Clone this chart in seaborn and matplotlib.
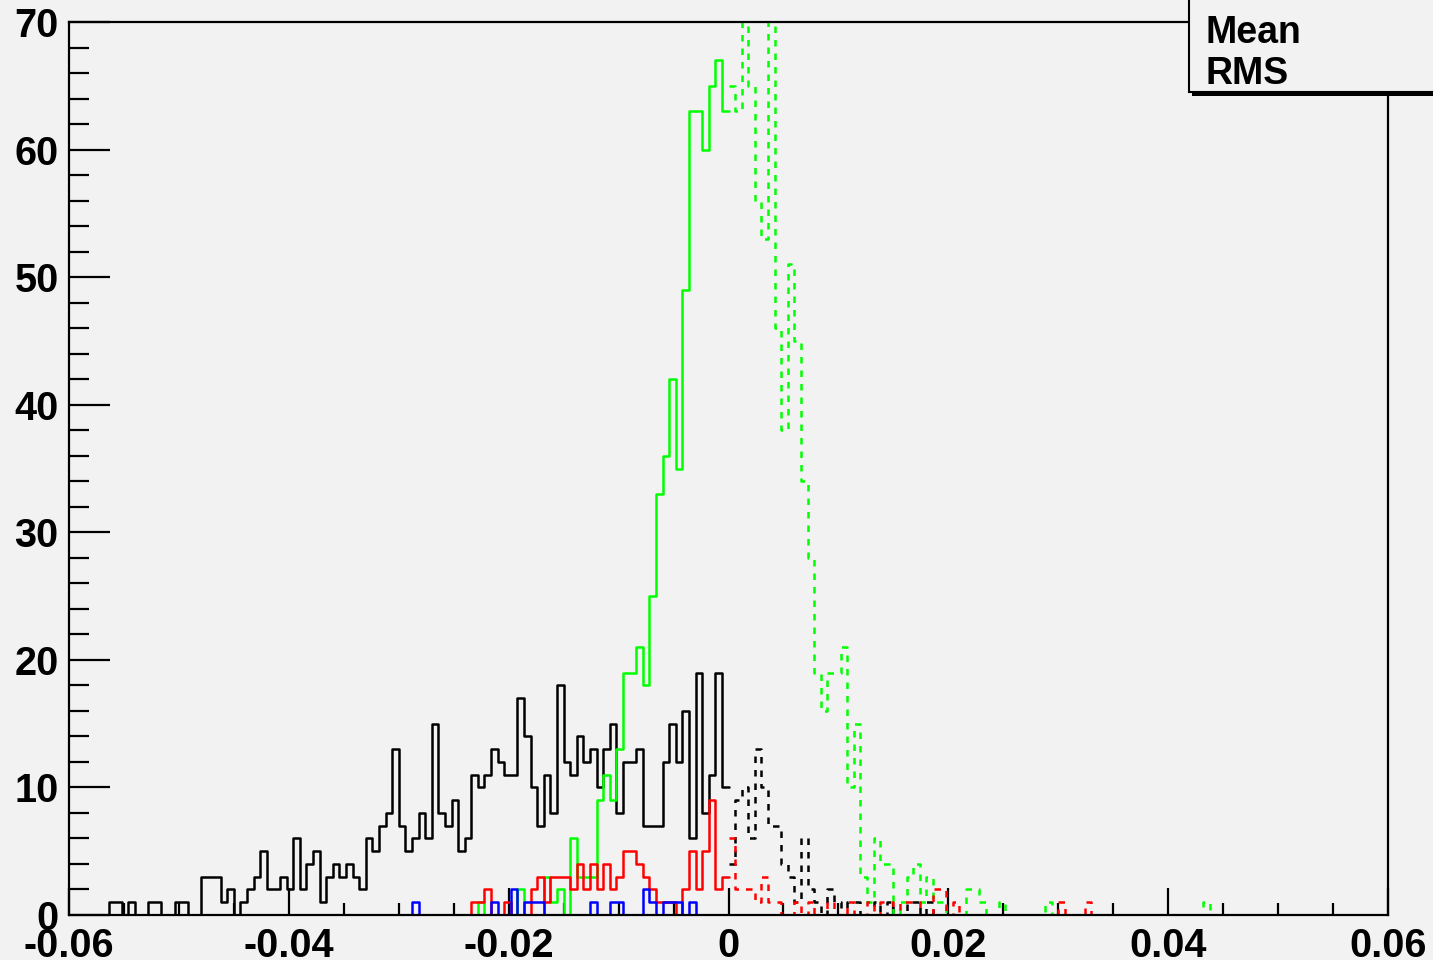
import numpy as np
import pandas as pd
import matplotlib
matplotlib.use("Agg")
import matplotlib.pyplot as plt
from matplotlib.patches import Rectangle
from matplotlib.ticker import MultipleLocator, FuncFormatter
import seaborn as sns

# ---------------- data (counts per bin, bin width 0.0006) ----------------
# negative side: 100 bins covering [-0.06, 0)
neg_black = [0, 0, 0, 0, 0, 0, 1, 1, 0, 1,
             0, 0, 1, 1, 0, 0, 1, 1, 0, 0,
             3, 3, 3, 1, 2, 0, 1, 2, 3, 5,
             2, 2, 3, 2, 6, 2, 4, 5, 1, 3,
             4, 3, 4, 3, 2, 6, 5, 7, 8, 13,
             7, 5, 6, 8, 6, 15, 8, 7, 9, 5,
             6, 11, 10, 11, 13, 12, 11, 11, 17, 14,
             10, 7, 11, 8, 18, 12, 11, 14, 12, 13,
             10, 13, 15, 8, 12, 12, 13, 7, 7, 7,
             12, 15, 12, 16, 6, 19, 8, 11, 19, 10]
neg_green = [0] * 60 + [0, 0, 1, 0, 0, 0, 0, 0, 2, 0,
                        0, 0, 3, 1, 2, 0, 6, 3, 3, 3,
                        9, 11, 9, 13, 19, 19, 21, 18, 25, 33,
                        36, 42, 35, 49, 63, 63, 60, 65, 67, 63]
neg_red = [0] * 60 + [0, 1, 1, 2, 0, 0, 1, 0, 0, 0,
                      2, 3, 1, 3, 3, 3, 2, 4, 2, 4,
                      2, 4, 2, 3, 5, 5, 4, 3, 2, 1,
                      1, 1, 0, 2, 5, 2, 5, 9, 2, 3]
neg_blue = [0] * 50 + [0, 0, 1, 0, 0, 0, 0, 0, 0, 0,
                       0, 0, 0, 0, 1, 0, 0, 2, 0, 1,
                       1, 1, 0, 0, 0, 0, 0, 0, 0, 1,
                       0, 0, 1, 1, 0, 0, 0, 2, 1, 0,
                       1, 1, 1, 0, 1, 0, 0, 0, 0, 0]

# positive side: 100 bins covering [0, 0.06)
pos_black = [4, 9, 10, 6, 13, 10, 7, 7, 4, 3,
             1, 6, 2, 1, 0, 2, 1, 0, 1, 1,
             0, 0, 1, 0, 1, 0, 0, 1, 1, 0,
             1] + [0] * 69
pos_green = [65, 63, 74, 65, 56, 53, 73, 46, 38, 51,
             45, 34, 28, 19, 16, 19, 19, 21, 10, 15,
             3, 1, 6, 4, 4, 0, 1, 3, 4, 1,
             3, 1, 1, 0, 0, 0, 2, 2, 1, 0,
             0, 1, 0, 0, 0, 0, 0, 0, 1, 0] + [0] * 22 + [1] + [0] * 27
pos_red = [6, 2, 2, 2, 1, 3, 1, 1, 0, 0,
           1, 0, 1, 0, 0, 1, 0, 0, 1, 0,
           0, 1, 0, 1, 1, 0, 1, 1, 1, 0,
           0, 2, 2, 0, 1, 0, 0, 0, 0, 0,
           0, 0, 0, 0, 0, 0, 0, 0, 0, 0,
           1, 0, 0, 0, 1] + [0] * 45
pos_blue = [0] * 100

x_ticks_labels = ["-0.06", "-0.04", "-0.02", "0", "0.02", "0.04", "0.06"]
stats_labels = ["Mean", "RMS"]

# ---------------- style ----------------
BG = "#f2f2f2"
sns.set_style("ticks")
plt.rcParams["font.family"] = ["Liberation Sans", "DejaVu Sans"]
plt.rcParams["font.weight"] = "bold"
plt.rcParams["text.color"] = "black"
plt.rcParams["xtick.color"] = "black"
plt.rcParams["ytick.color"] = "black"
plt.rcParams["xtick.labelcolor"] = "black"
plt.rcParams["ytick.labelcolor"] = "black"
plt.rcParams["axes.edgecolor"] = "black"

fig = plt.figure(figsize=(14.33, 9.6), dpi=100, facecolor=BG)
W, H = 1433, 960
ax = fig.add_axes([69 / W, (H - 915) / H, (1388 - 69) / W, (915 - 22) / H])
ax.set_facecolor(BG)

NB = 100
neg_range = (-0.06, 0.0)
pos_range = (0.0, 0.06)
neg_centers = np.linspace(-0.06, 0.0, NB + 1)[:-1] + 0.0003
pos_centers = np.linspace(0.0, 0.06, NB + 1)[:-1] + 0.0003

LW = 1.8
DASH = (0, (2.6, 2.8))

series = [
    (neg_black, "black", "-", neg_centers, neg_range),
    (neg_green, "#00ff00", "-", neg_centers, neg_range),
    (neg_red, "#ff0000", "-", neg_centers, neg_range),
    (neg_blue, "#0000ff", "-", neg_centers, neg_range),
    (pos_black, "black", DASH, pos_centers, pos_range),
    (pos_green, "#00ff00", DASH, pos_centers, pos_range),
    (pos_red, "#ff0000", DASH, pos_centers, pos_range),
    (pos_blue, "#0000ff", DASH, pos_centers, pos_range),
]
for counts, col, ls, centers, rng in series:
    df = pd.DataFrame({"x": centers, "w": np.asarray(counts, dtype=float)})
    sns.histplot(data=df, x="x", weights="w", bins=NB, binrange=rng,
                 element="step", fill=False, color=col, linewidth=LW,
                 linestyle=ls, ax=ax)

ax.set_xlim(-0.06, 0.06)
ax.set_ylim(0, 70)
ax.set_xlabel("")
ax.set_ylabel("")

# ticks
ax.xaxis.set_major_locator(MultipleLocator(0.02))
ax.xaxis.set_minor_locator(MultipleLocator(0.005))
ax.yaxis.set_major_locator(MultipleLocator(10))
ax.yaxis.set_minor_locator(MultipleLocator(2))

def xfmt(v, p):
    i = int(round((v + 0.06) / 0.02))
    if 0 <= i < len(x_ticks_labels):
        return x_ticks_labels[i]
    return ""

ax.xaxis.set_major_formatter(FuncFormatter(xfmt))
ax.yaxis.set_major_formatter(FuncFormatter(lambda v, p: f"{int(round(v))}"))

ax.tick_params(axis="both", which="both", direction="in", width=1.6,
               color="black", labelcolor="black", top=False, right=False)
ax.tick_params(axis="x", which="major", length=19.5, labelsize=28.5, pad=8.5)
ax.tick_params(axis="x", which="minor", length=8.6)
ax.tick_params(axis="y", which="major", length=29.5, labelsize=28.5, pad=7.5)
ax.tick_params(axis="y", which="minor", length=14.4)
for lab in ax.get_xticklabels() + ax.get_yticklabels():
    lab.set_fontweight("bold")

for s in ax.spines.values():
    s.set_visible(True)
    s.set_linewidth(1.6)
    s.set_color("black")

# stats box (top right, partially outside the canvas)
shadow = Rectangle((1192 / W, 1 - 96 / H), (1450 - 1192) / W, 120 / H,
                   transform=fig.transFigure, facecolor="black",
                   edgecolor="none", zorder=5)
box = Rectangle((1189 / W, 1 - 92 / H), (1446 - 1189) / W, 120 / H,
                transform=fig.transFigure, facecolor=BG,
                edgecolor="black", linewidth=1.5, zorder=6)
fig.add_artist(shadow)
fig.add_artist(box)
fig.text(1206 / W, 1 - 43 / H, stats_labels[0], fontsize=27, fontweight="bold",
         color="black", ha="left", va="baseline", zorder=7)
fig.text(1206 / W, 1 - 84 / H, stats_labels[1], fontsize=27, fontweight="bold",
         color="black", ha="left", va="baseline", zorder=7)

fig.savefig("out.png", dpi=100, facecolor=BG)
